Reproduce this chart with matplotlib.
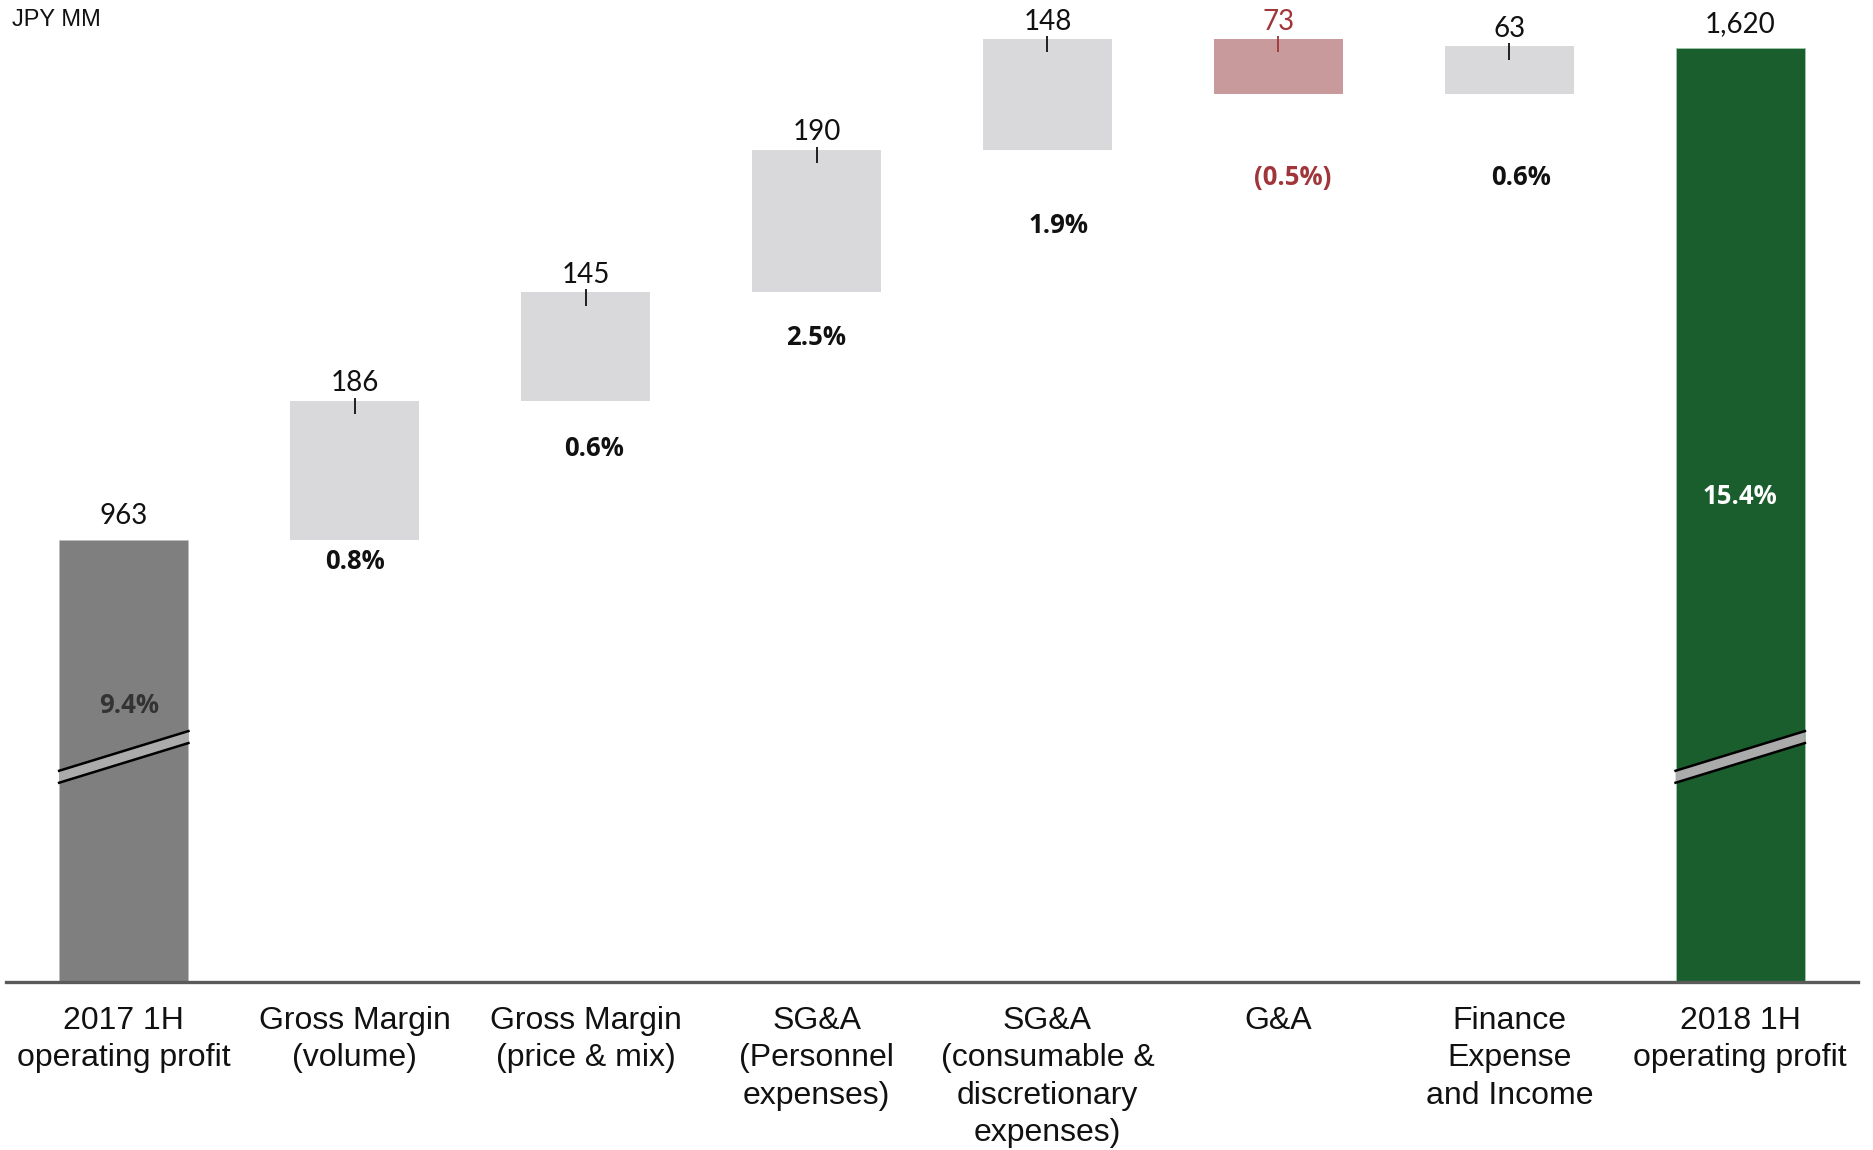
import matplotlib
matplotlib.use("Agg")
import matplotlib.pyplot as plt
from matplotlib.patches import Polygon

# data
categories = ["2017 1H\noperating profit", "Gross Margin\n(volume)", "Gross Margin\n(price & mix)",
              "SG&A\n(Personnel\nexpenses)", "SG&A\n(consumable &\ndiscretionary\nexpenses)", "G&A",
              "Finance\nExpense\nand Income", "2018 1H\noperating profit"]
start_total = 963
end_total = 1620
deltas = [186, 145, 190, 148, -73, 63]
value_labels = ["963", "186", "145", "190", "148", "73", "63", "1,620"]
pct_labels = ["9.4%", "0.8%", "0.6%", "2.5%", "1.9%", "(0.5%)", "0.6%", "15.4%"]

# layout
AXIS_BASE = 373          # broken axis: bars start here
Y_TOP = 1684
pct_y = [742, 935, 1085, 1233, 1383, 1447, 1447, 1021]
pct_dx = [0.025, 0, 0.035, 0, 0.05, 0.06, 0.05, 0]
break_y = (647, 700)     # break band centre at left / right edge of bar
break_h = 16
BAR_W = 0.56

GREY_TOTAL = "#7f7f7f"
GREY_STEP = "#d9d9db"
RED_STEP = "#c99a9b"
GREEN = "#1b5e2d"
RED_TXT = "#a0353a"
TXT = "#111111"

NUM_FONT = ["Lato", "DejaVu Sans"]
LBL_FONT = ["Liberation Sans Narrow", "Liberation Sans", "DejaVu Sans"]

fig = plt.figure(figsize=(18.74, 11.5), dpi=100)
ax = fig.add_axes([6 / 1874, 1 - 982 / 1150, (1858 - 6) / 1874, 982 / 1150])
ax.set_xlim(-0.51, 7.51)
ax.set_ylim(AXIS_BASE, Y_TOP)

# waterfall bars
n = len(categories)
xs = list(range(n))
ax.bar(0, start_total - AXIS_BASE, bottom=AXIS_BASE, width=BAR_W, color=GREY_TOTAL,
       edgecolor="#bdbdbd", linewidth=0.6)
run = start_total
tops = [start_total]
for i, d in enumerate(deltas):
    col = RED_STEP if d < 0 else GREY_STEP
    lo, hi = (run + d, run) if d < 0 else (run, run + d)
    ax.bar(i + 1, hi - lo, bottom=lo, width=BAR_W, color=col, linewidth=0)
    tops.append(hi)
    run += d
ax.bar(n - 1, end_total - AXIS_BASE, bottom=AXIS_BASE, width=BAR_W, color=GREEN,
       edgecolor="#9fc9a9", linewidth=0.6)
tops.append(end_total)

# value labels + small ticks into the bars
for i in xs:
    col = RED_TXT if (0 < i < n - 1 and deltas[i - 1] < 0) else TXT
    is_total = i in (0, n - 1)
    off = 17 if is_total else 12.5
    ax.annotate(value_labels[i], (i, tops[i]), xytext=(0, off), textcoords="offset points",
                ha="center", va="center", fontsize=20, color=col, family=NUM_FONT)
    if not is_total:
        ax.plot([i, i], [tops[i] + 4, tops[i] - 18], color=col, lw=1.3, solid_capstyle="butt")

# percent labels
for i in xs:
    col = TXT
    if i == n - 1:
        col = "white"
    elif i == 0:
        col = "#333333"
    elif deltas[i - 1] < 0:
        col = RED_TXT
    ax.text(i + pct_dx[i], pct_y[i], pct_labels[i], ha="center", va="center",
            fontsize=18.5, fontweight="bold", color=col, family=["Open Sans", "DejaVu Sans"])

# axis break marks on the total bars
for i in (0, n - 1):
    x0, x1 = i - BAR_W / 2, i + BAR_W / 2
    y0, y1 = break_y
    band = Polygon([(x0, y0 - break_h / 2), (x1, y1 - break_h / 2),
                    (x1, y1 + break_h / 2), (x0, y0 + break_h / 2)],
                   closed=True, facecolor="#ababab", edgecolor="none", zorder=3)
    ax.add_patch(band)
    for s in (-1, 1):
        ax.plot([x0, x1], [y0 + s * break_h / 2, y1 + s * break_h / 2], color="black", lw=1.8, zorder=4)

# category labels
for i in xs:
    ax.annotate(categories[i], (i, 0), xycoords=("data", "axes fraction"), xytext=(0, -17),
                textcoords="offset points", ha="center", va="top", fontsize=23,
                linespacing=1.33, color=TXT, family=LBL_FONT)

for s in ("top", "left", "right"):
    ax.spines[s].set_visible(False)
ax.spines["bottom"].set_color("#5a5a5a")
ax.spines["bottom"].set_linewidth(2.4)
ax.set_xticks([])
ax.set_yticks([])

fig.text(12 / 1874, 1 - 20 / 1150, "JPY MM", ha="left", va="center", fontsize=17,
         color=TXT, family=LBL_FONT)

fig.savefig("out.png", dpi=100)
